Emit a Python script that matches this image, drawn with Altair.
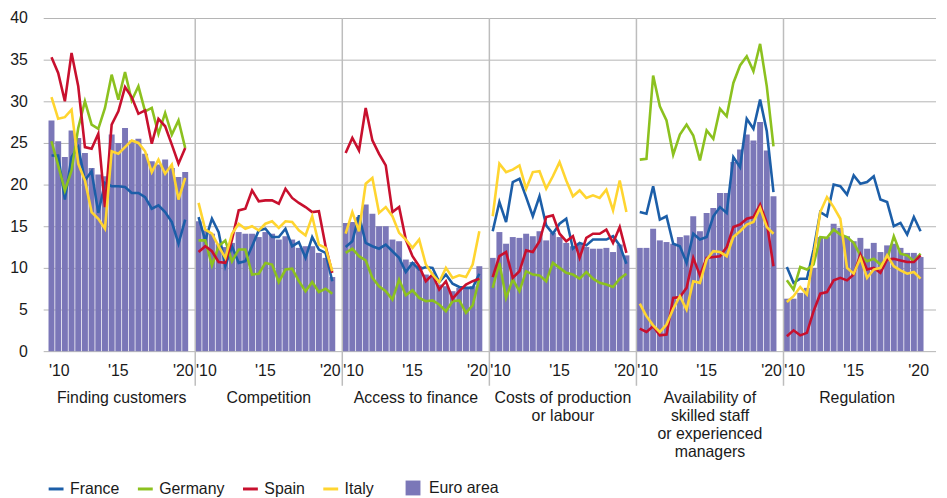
import altair as alt
import pandas as pd

# ---------------- data ----------------
panel_titles = [
    "Finding customers",
    "Competition",
    "Access to finance",
    "Costs of production\nor labour",
    "Availability of\nskilled staff\nor experienced\nmanagers",
    "Regulation",
]
countries = ["France", "Germany", "Spain", "Italy"]
country_colors = ["#1c5ea8", "#8cc11f", "#c8102e", "#ffd530"]
ea_label = "Euro area"
ea_color = "#7b77b8"
tick_years = [2010, 2015, 2020]
tick_labels = ["'10", "'15", "'20"]
y_ticks = [0, 5, 10, 15, 20, 25, 30, 35, 40]

# Finding customers
fc_ea = [27.7, 25.2, 23.3, 26.5, 25.6, 23.8, 22.0, 21.2, 21.0, 26.0, 25.0, 26.8, 25.3, 25.5, 23.7, 22.8, 22.4, 23.0, 22.0, 20.9, 21.5]
fc_fr = [23.5, 23.5, 18.2, 23.3, 24.5, 20.5, 21.6, 16.6, 20.2, 19.8, 19.8, 19.7, 19.0, 19.0, 18.5, 17.1, 17.5, 16.7, 15.5, 12.9, 15.8]
fc_de = [25.2, 22.3, 19.3, 21.7, 26.8, 30.0, 27.2, 26.7, 29.2, 33.2, 30.2, 33.5, 30.1, 31.8, 28.8, 29.2, 26.1, 28.6, 26.0, 27.7, 24.4]
fc_es = [35.3, 33.4, 30.0, 35.8, 31.8, 24.5, 24.3, 26.1, 17.3, 27.2, 28.8, 31.7, 30.5, 28.5, 28.9, 24.9, 27.9, 27.0, 24.8, 22.5, 24.4]
fc_it = [30.5, 27.9, 28.1, 29.0, 22.5, 20.5, 16.7, 15.9, 14.7, 24.0, 23.7, 24.5, 25.3, 25.0, 24.0, 21.5, 23.0, 21.3, 22.4, 18.2, 20.8]

# Competition
co_ea = [15.6, 14.5, 14.1, 12.9, 12.5, 13.0, 14.3, 14.1, 14.1, 13.7, 14.3, 14.1, 13.4, 13.8, 13.4, 12.4, 12.6, 12.6, 11.8, 11.2, 8.9]
co_fr = [16.1, 13.3, 15.9, 14.3, 10.2, 12.6, 10.6, 10.8, 12.6, 14.5, 14.7, 13.7, 13.7, 14.7, 12.6, 13.1, 11.2, 13.7, 12.2, 11.8, 8.4]
co_de = [13.3, 13.3, 10.3, 12.6, 13.3, 10.8, 12.2, 12.2, 9.2, 9.3, 10.6, 10.4, 8.3, 9.8, 9.9, 8.4, 7.2, 8.3, 7.1, 7.5, 6.9]
co_es = [11.9, 12.6, 12.0, 10.7, 10.6, 13.4, 16.9, 17.1, 19.3, 18.0, 18.1, 18.1, 17.7, 19.5, 18.4, 17.8, 17.3, 16.7, 16.8, 12.6, 9.4]
co_it = [17.8, 14.6, 14.1, 12.6, 11.2, 14.1, 15.3, 14.7, 15.0, 14.5, 15.3, 15.6, 14.8, 15.6, 15.5, 14.5, 13.9, 16.2, 12.8, 12.4, 9.6]

# Access to finance
af_ea = [15.4, 15.5, 16.1, 17.6, 16.5, 15.0, 15.0, 13.4, 13.2, 11.0, 10.7, 10.2, 9.2, 9.0, 8.0, 7.8, 7.2, 7.6, 7.6, 7.8, 10.2]
af_fr = [12.5, 13.2, 16.3, 13.0, 12.6, 12.3, 12.8, 12.0, 11.2, 9.5, 10.6, 9.8, 10.1, 10.0, 8.3, 9.2, 8.1, 7.7, 7.6, 7.6, 9.3]
af_de = [11.8, 12.3, 11.4, 10.9, 8.8, 7.8, 7.2, 6.2, 8.6, 6.7, 7.3, 6.4, 6.0, 6.1, 5.6, 4.8, 6.0, 6.1, 4.6, 5.5, 8.7]
af_es = [23.8, 25.6, 24.1, 29.2, 25.3, 23.7, 22.3, 16.7, 17.3, 13.4, 11.4, 10.2, 8.4, 9.2, 7.4, 8.4, 6.3, 7.2, 8.0, 8.4, 8.7]
af_it = [14.1, 16.7, 14.4, 20.1, 20.8, 16.6, 17.3, 16.2, 14.2, 13.4, 12.4, 13.4, 10.4, 9.2, 8.3, 10.0, 8.8, 9.1, 8.9, 10.4, 14.4]

# Costs of production or labour
cp_ea = [11.2, 14.3, 12.9, 13.7, 13.6, 14.1, 13.8, 14.4, 13.3, 14.2, 13.7, 13.0, 12.6, 13.0, 12.5, 12.3, 12.3, 12.4, 11.9, 12.8, 11.5]
cp_fr = [14.4, 17.9, 15.5, 20.3, 20.7, 18.5, 16.2, 18.6, 15.1, 14.1, 15.3, 15.9, 12.3, 13.0, 12.7, 13.4, 13.4, 13.4, 13.8, 12.7, 10.5]
cp_de = [7.6, 10.6, 6.4, 8.6, 7.2, 9.6, 9.2, 9.1, 8.4, 10.6, 10.0, 9.4, 9.2, 8.7, 9.5, 8.7, 8.2, 8.0, 7.7, 8.7, 9.3]
cp_es = [8.9, 11.4, 11.9, 8.8, 9.6, 12.1, 11.9, 13.2, 16.1, 16.3, 14.1, 13.2, 13.8, 11.2, 13.6, 14.1, 14.1, 14.6, 13.0, 14.9, 11.8]
cp_it = [16.2, 22.5, 21.5, 21.8, 22.3, 19.5, 21.5, 21.6, 19.5, 21.0, 22.7, 20.5, 18.6, 19.3, 18.4, 18.7, 18.4, 19.4, 16.9, 20.5, 16.7]

# Availability of skilled staff or experienced managers
sk_ea = [12.4, 12.4, 14.7, 13.3, 13.1, 12.9, 13.7, 13.9, 16.2, 14.4, 16.6, 17.2, 19.0, 19.0, 22.7, 24.2, 26.0, 25.3, 27.5, 24.1, 18.6]
sk_fr = [16.7, 16.5, 19.8, 15.8, 16.2, 12.9, 12.6, 10.6, 14.1, 13.4, 13.7, 16.2, 17.3, 16.6, 23.3, 22.1, 27.9, 26.7, 30.2, 26.4, 19.1]
sk_de = [23.0, 23.1, 33.1, 29.4, 27.7, 23.6, 26.0, 27.2, 25.9, 22.9, 26.5, 25.5, 29.1, 28.2, 32.2, 34.3, 35.4, 33.6, 36.9, 31.8, 24.6]
sk_es = [2.7, 2.3, 3.0, 1.9, 2.0, 6.4, 6.5, 7.6, 11.2, 9.1, 11.2, 11.3, 11.4, 12.5, 14.9, 15.2, 15.9, 16.1, 17.6, 15.4, 10.2]
sk_it = [5.7, 4.2, 3.1, 2.3, 3.2, 5.1, 6.6, 5.0, 8.4, 8.2, 11.0, 12.0, 11.9, 11.4, 13.7, 14.4, 15.2, 15.5, 17.2, 14.9, 14.1]

# Regulation
rg_ea = [6.3, 6.3, 7.0, 7.6, 10.0, 13.7, 13.7, 15.3, 14.8, 13.8, 13.2, 13.6, 12.3, 13.0, 11.9, 12.7, 12.9, 12.4, 11.8, 11.8, 11.3]
rg_fr = [10.1, 8.2, 8.7, 8.7, 12.2, 16.7, 16.2, 20.0, 19.8, 18.8, 21.1, 20.1, 20.3, 21.0, 18.2, 17.9, 15.0, 15.4, 14.0, 16.1, 14.4]
rg_de = [8.5, 7.4, 10.1, 9.8, 10.4, 13.7, 13.6, 14.6, 14.0, 13.7, 13.0, 11.5, 10.8, 11.1, 10.4, 11.0, 13.8, 11.7, 11.5, 10.8, 11.7]
rg_es = [1.8, 2.5, 1.9, 2.2, 4.8, 6.9, 7.1, 8.5, 8.8, 8.5, 9.2, 11.6, 9.8, 10.0, 9.4, 11.0, 11.1, 10.9, 10.7, 10.7, 11.5]
rg_it = [5.9, 6.6, 7.7, 6.8, 11.4, 16.7, 18.5, 17.3, 15.9, 10.0, 9.3, 11.2, 8.8, 9.8, 10.0, 11.5, 10.2, 9.7, 9.3, 9.5, 8.7]

ea_series = [fc_ea, co_ea, af_ea, cp_ea, sk_ea, rg_ea]
country_series = [
    [fc_fr, fc_de, fc_es, fc_it],
    [co_fr, co_de, co_es, co_it],
    [af_fr, af_de, af_es, af_it],
    [cp_fr, cp_de, cp_es, cp_it],
    [sk_fr, sk_de, sk_es, sk_it],
    [rg_fr, rg_de, rg_es, rg_it],
]

# ---------------- layout helpers ----------------
SLOTS = 22  # 21 half-yearly survey rounds + one spacer slot per panel
N_PANELS = len(panel_titles)


def slot_pos(panel, i):
    return panel * SLOTS + 0.5 + i


bar_rows, line_rows = [], []
for p in range(N_PANELS):
    for i, v in enumerate(ea_series[p]):
        bar_rows.append({"panel": p, "x": slot_pos(p, i), "value": v, "series": ea_label})
    for c, vals in zip(countries, country_series[p]):
        for i, v in enumerate(vals):
            line_rows.append({"panel": p, "country": c, "x": slot_pos(p, i), "value": v})
bar_df = pd.DataFrame(bar_rows)
line_df = pd.DataFrame(line_rows)

tick_rows = []
for p in range(N_PANELS):
    for yr, lab in zip(tick_years, tick_labels):
        tick_rows.append({"panel": p, "year": yr, "label": lab,
                          "x": slot_pos(p, 2 * (yr - tick_years[0]))})
tick_df = pd.DataFrame(tick_rows)

sep_df = pd.DataFrame({"x": [p * SLOTS for p in range(1, N_PANELS)]})
title_df = pd.DataFrame({"x": [p * SLOTS + SLOTS / 2 for p in range(N_PANELS)],
                         "title": panel_titles})

FONT = "Liberation Sans, Arial, sans-serif"
FS = 16
TXT = "#1a1a1a"
GRID = "#b4b4b4"

x_scale = alt.Scale(domain=[0, N_PANELS * SLOTS], nice=False, zero=False)
y_scale = alt.Scale(domain=[0, 40], nice=False)

bars = alt.Chart(bar_df).mark_bar(orient="vertical", size=6).encode(
    x=alt.X("x:Q", scale=x_scale, axis=None),
    y=alt.Y("value:Q", scale=y_scale,
            axis=alt.Axis(values=y_ticks, grid=True, gridColor=GRID, gridWidth=1,
                          domain=False, ticks=False, labelPadding=16,
                          labelFontSize=FS, labelColor=TXT, labelFont=FONT, title=None)),
    fill=alt.Fill("series:N", scale=alt.Scale(domain=[ea_label], range=[ea_color]),
                  legend=alt.Legend(title=None, orient="none", legendX=365, legendY=466,
                                    symbolType="square", symbolSize=225, symbolStrokeWidth=0,
                                    labelFontSize=FS, labelFont=FONT, labelColor=TXT,
                                    labelOffset=8)),
)

lines = alt.Chart(line_df).mark_line(strokeWidth=2.6).encode(
    x=alt.X("x:Q", scale=x_scale, axis=None),
    y=alt.Y("value:Q", scale=y_scale),
    stroke=alt.Stroke("country:N", scale=alt.Scale(domain=countries, range=country_colors),
                      legend=alt.Legend(title=None, orient="none", legendX=4, legendY=466,
                                        direction="horizontal", symbolType="stroke",
                                        symbolSize=225, symbolStrokeWidth=3,
                                        labelFontSize=FS, labelFont=FONT, labelColor=TXT,
                                        labelOffset=5, columnPadding=12)),
    detail="panel:N",
)

seps = alt.Chart(sep_df).mark_rule(color="#bdbdbd", strokeWidth=1.5).encode(
    x=alt.X("x:Q", scale=x_scale, axis=None),
    y=alt.value(0),
    y2=alt.value(371),
)


def tick_layer(year, align, dx):
    return alt.Chart(tick_df).transform_filter(alt.datum.year == year).mark_text(
        align=align, baseline="alphabetic", dx=dx, fontSize=FS, font=FONT, color=TXT
    ).encode(x=alt.X("x:Q", scale=x_scale, axis=None), y=alt.value(361), text="label:N")


ticks = [tick_layer(2010, "left", -2.5), tick_layer(2015, "center", 0),
         tick_layer(2020, "right", 8.5)]

titles = alt.Chart(title_df).mark_text(
    align="center", baseline="alphabetic", lineBreak="\n", lineHeight=18.3,
    fontSize=FS, font=FONT, color=TXT
).encode(x=alt.X("x:Q", scale=x_scale, axis=None), y=alt.value(388), text="title:N")

chart = alt.layer(bars, lines, seps, *ticks, titles).properties(
    width=900, height=336,
    autosize=alt.AutoSizeParams(type="none"),
    padding={"left": 35.5, "top": 8, "right": 3.5, "bottom": 146},
).configure(font=FONT).configure_view(strokeWidth=0)

chart.save("out.html", embed_options={"renderer": "svg", "actions": False})
